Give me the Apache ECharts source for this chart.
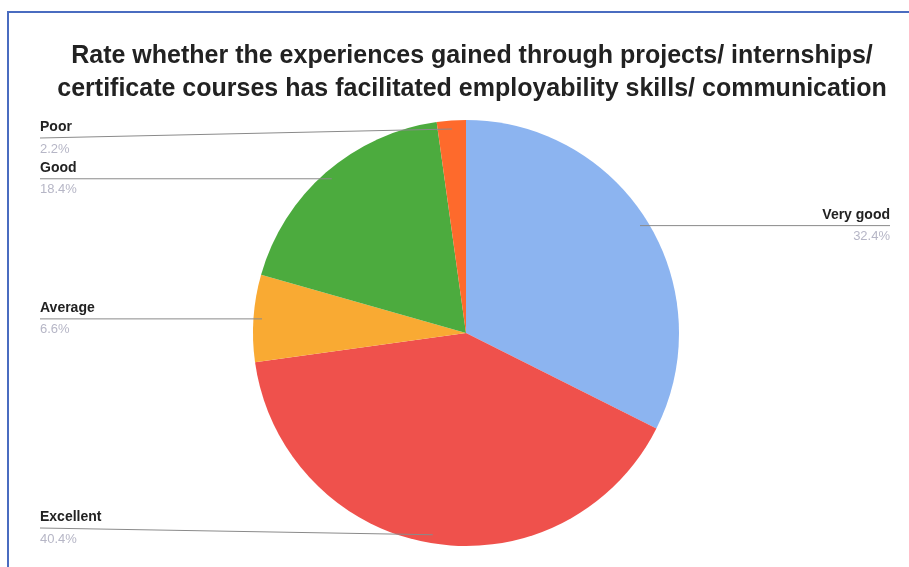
<!DOCTYPE html>
<html>
<head>
<meta charset="utf-8">
<script src="https://cdn.jsdelivr.net/npm/echarts@6/dist/echarts.min.js"></script>
<style>
  html, body { margin: 0; padding: 0; background: #fff; }
  #chart { width: 909px; height: 567px; }
</style>
</head>
<body>
<div id="chart"></div>
<script>
// slices, clockwise from 12 o'clock
const categories = ['Very good', 'Excellent', 'Average', 'Good', 'Poor'];
const shares = [32.4, 40.4, 6.6, 18.4, 2.2];
const colors = ['#8cb4f0', '#ef514c', '#f9aa33', '#4cab3e', '#fe6a2c'];

const chart = echarts.init(document.getElementById('chart'));

const cx = 466, cy = 333, r = 213;
const total = shares.reduce((a, b) => a + b, 0);

// mid angle of each slice (radians, clockwise from top)
const midAngles = [];
let acc = 0;
shares.forEach((v) => {
  midAngles.push(((acc + v / 2) / total) * Math.PI * 2);
  acc += v;
});

const pieBase = {
  type: 'pie',
  center: [cx, cy],
  radius: r,
  startAngle: 90,
  clockwise: true,
  percentPrecision: 1,
  emphasis: { disabled: true }
};

chart.setOption({
  title: {
    text: 'Rate whether the experiences gained through projects/ internships/\ncertificate courses has facilitated employability skills/ communication',
    left: 467,
    top: 35,
    textAlign: 'center',
    textStyle: {
      fontFamily: 'Liberation Sans',
      fontWeight: 'bold',
      fontSize: 25,
      lineHeight: 33,
      color: '#222'
    }
  },
  graphic: [{
    type: 'rect',
    shape: { x: 8, y: 12, width: 1000, height: 1000 },
    style: { fill: 'none', stroke: '#4a6cc0', lineWidth: 2 },
    silent: true
  }],
  series: [
    // coloured slices
    Object.assign({}, pieBase, {
      z: 2,
      data: categories.map((name, i) => ({
        name,
        value: shares[i],
        itemStyle: { color: colors[i] }
      })),
      label: { show: false },
      labelLine: { show: false }
    }),
    // transparent copy on top, carries the labels so the lines run into the slices
    Object.assign({}, pieBase, {
      z: 6,
      silent: true,
      data: categories.map((name, i) => ({
        name,
        value: shares[i],
        itemStyle: { color: 'rgba(0,0,0,0)' }
      })),
      label: {
        formatter: '{name|{b}}\n{pct|{d}%}',
        rich: {
          name: {
            fontFamily: 'Liberation Sans',
            fontWeight: 'bold',
            fontSize: 14,
            color: '#222',
            lineHeight: 22
          },
          pct: {
            fontFamily: 'Liberation Sans',
            fontSize: 13,
            color: '#b6b6c6',
            lineHeight: 21
          }
        }
      },
      labelLine: {
        show: true,
        length: 0,
        length2: 0,
        lineStyle: { color: '#8a8a8a', width: 1 }
      },
      labelLayout: function (params) {
        const a = midAngles[params.dataIndex];
        const px = cx + Math.sin(a) * r * 0.96;
        const py = cy - Math.cos(a) * r * 0.96;
        const isLeft = px < cx;
        const y = Math.min(Math.max(py, cy - r + 18), cy + r - 18);
        const x = isLeft ? 40 : 890;
        return {
          x: x,
          y: y,
          align: isLeft ? 'left' : 'right',
          verticalAlign: 'middle',
          labelLinePoints: [[px, py], [px, py], [x, y]]
        };
      }
    })
  ]
});
</script>
</body>
</html>
